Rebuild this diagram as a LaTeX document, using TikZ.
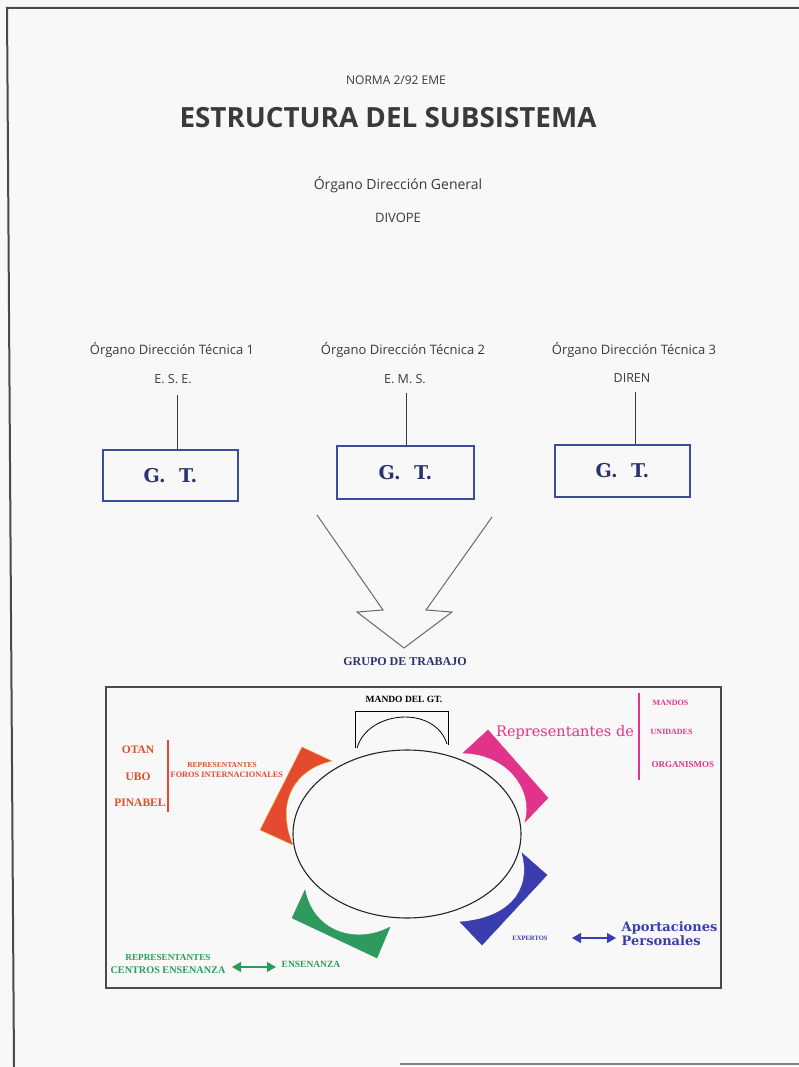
\documentclass[tikz,border=0pt]{standalone}
\usepackage{fontspec}
\setmainfont{Open Sans}
\newfontfamily\osans{Open Sans}
\newfontfamily\dvserif{DejaVu Serif}
\newfontfamily\tserif{Liberation Serif}
\usetikzlibrary{arrows.meta,shapes.geometric}

\definecolor{paper}{HTML}{F8F8F8}
\definecolor{inkgray}{HTML}{3A3A3A}
\definecolor{framegray}{HTML}{4A4A4A}
\definecolor{boxblue}{HTML}{3C4C9C}
\definecolor{navy}{HTML}{2A3270}
\definecolor{redorange}{HTML}{E44A2E}
\definecolor{halo}{HTML}{F2B33C}
\definecolor{magenta}{HTML}{E2338A}
\definecolor{royal}{HTML}{3A3DAE}
\definecolor{leaf}{HTML}{2E9A5E}
\definecolor{outline}{HTML}{6A6A6A}

\newcommand{\fs}[1]{\fontsize{#1}{#1}\selectfont}

\tikzset{
  toptext/.style={text=inkgray, inner sep=1pt, font=\osans\fs{13}},
  gtbox/.style={draw=boxblue, line width=1.3pt, minimum width=135pt, minimum height=51pt,
                text=navy, font=\dvserif\bfseries\fs{19}},
  link/.style={draw=inkgray, line width=1pt},
  tinylabel/.style={inner sep=0.5pt, font=\tserif\bfseries\fs{8}},
  dblarrow/.style={line width=1.2pt, {Triangle[length=9pt,width=10pt]}-{Triangle[length=9pt,width=10pt]}},
  band/.style={line width=0.4pt}
}

\begin{document}
\begin{tikzpicture}[x=1pt,y=-1pt]
\useasboundingbox (0,0) rectangle (799,1067);
\fill[paper] (0,0) rectangle (799,1067);

% sheet edges
\draw[framegray, line width=2pt] (799,8) -- (7,8) -- (14,1067);
\draw[framegray!70, line width=2pt] (400,1063.5) -- (799,1063.5);

% heading
\node[toptext, font=\osans\fs{12}] (norma) at (396,80) {NORMA 2/92 EME};
\node[text=inkgray, font=\osans\bfseries\fs{27.8}] (title) at (388,118) {ESTRUCTURA DEL SUBSISTEMA};
\node[toptext, font=\osans\fs{14}] (dg) at (398,185) {Órgano Dirección General};
\node[toptext] (divope) at (398,218) {DIVOPE};

% technical directorates
\node[toptext] (odt1) at (172,350) {Órgano Dirección Técnica 1};
\node[toptext] (odt2) at (403,350) {Órgano Dirección Técnica 2};
\node[toptext] (odt3) at (634,350) {Órgano Dirección Técnica 3};
\node[toptext, font=\osans\fs{12.5}] (ese) at (173,379) {E. S. E.};
\node[toptext, font=\osans\fs{12.5}] (ems) at (405,379) {E. M. S.};
\node[toptext, font=\osans\fs{12.5}] (diren) at (632,378) {DIREN};

% working groups
\node[gtbox] (gt1) at (170.5,475.5) {G.~~T.};
\node[gtbox, minimum width=137pt, minimum height=53pt] (gt2) at (405.5,472.5) {G.~~T.};
\node[gtbox, minimum height=52pt] (gt3) at (622.5,471) {G.~~T.};

\coordinate (c1) at (177,395);
\coordinate (c2) at (406,393);
\coordinate (c3) at (635,392);
\draw[link] (c1) -- (c1 |- gt1.north);
\draw[link] (c2) -- (c2 |- gt2.north);
\draw[link] (c3) -- (c3 |- gt3.north);

% converging arrow outline
\draw[outline, line width=1pt, line join=miter]
  (317,515) -- (383,610) -- (357,612) -- (404,648) -- (452,612) -- (426,610) -- (492,517);

\node[text=navy, font=\tserif\bfseries\fs{12}] (grupo) at (405,662) {GRUPO DE TRABAJO};

% working group panel
\node[draw=framegray, line width=1.5pt, minimum width=615pt, minimum height=301pt, inner sep=0pt]
  (panel) at (413.5,837.5) {};

\node[text=black, tinylabel, font=\tserif\bfseries\fs{9.5}] (mando) at (404,699) {MANDO DEL GT.};
\draw[black, line width=0.8pt] (355,748) -- (355,711) -- (448,711) -- (448,745);
\draw[black, line width=0.8pt] (357,748) .. controls (368,710) and (435,705) .. (447,744);

\node[draw=black!85, line width=1.1pt, ellipse, minimum width=228pt, minimum height=168pt, inner sep=0pt]
  (mesa) at (407,834) {};

% coloured brackets around the table
\filldraw[band, fill=redorange, draw=halo]
  (302,747) -- (332,761) .. controls (292,770) and (276,805) .. (293,845) -- (260,830) -- cycle;
\filldraw[band, fill=magenta, draw=magenta]
  (463,753) -- (488,730) -- (548,798) -- (525,822) .. controls (534,790) and (508,754) .. cycle;
\filldraw[band, fill=royal, draw=royal]
  (522,853) -- (547,875) -- (482,945) -- (460,922) .. controls (510,918) and (532,890) .. cycle;
\filldraw[band, fill=leaf, draw=leaf]
  (305,890) -- (292,918) -- (377,958) -- (390,927) .. controls (358,944) and (314,934) .. cycle;

% international forums
\node[tinylabel, text=redorange, font=\tserif\bfseries\fs{11.5}] (otan) at (138,750) {OTAN};
\node[tinylabel, text=redorange, font=\tserif\bfseries\fs{11.5}] (ubo) at (138,777) {UBO};
\node[tinylabel, text=redorange, font=\tserif\bfseries\fs{11.5}] (pinabel) at (140,803) {PINABEL};
\coordinate (rt) at (168,740);
\coordinate (rb) at (168,812);
\draw[redorange, line width=1.2pt] (rt) -- (rb);
\node[tinylabel, text=redorange, font=\tserif\bfseries\fs{7.5}] (repf) at (222,765) {REPRESENTANTES};
\node[tinylabel, text=redorange, font=\tserif\bfseries\fs{8.3}, anchor=west] (foros) at (170,775) {FOROS INTERNACIONALES};

% units
\node[text=magenta, inner sep=0.5pt, font=\dvserif\fs{14.5}] (repde) at (565,732) {Representantes de};
\coordinate (mt) at (639,693);
\coordinate (mb) at (639,780);
\draw[magenta, line width=1.2pt] (mt) -- (mb);
\node[tinylabel, text=magenta, anchor=west] (mandos) at (652,703) {MANDOS};
\node[tinylabel, text=magenta, anchor=west] (unidades) at (650,732) {UNIDADES};
\node[tinylabel, text=magenta, font=\tserif\bfseries\fs{9}, anchor=west] (organismos) at (651,765) {ORGANISMOS};

% experts
\node[tinylabel, text=royal, font=\tserif\bfseries\fs{6.6}] (expertos) at (530,938) {EXPERTOS};
\node[text=royal, inner sep=0.5pt, anchor=west, align=left, font=\dvserif\bfseries\fs{13}]
  (aport) at (621,934) {Aportaciones\\[1pt]Personales};
\coordinate (ea) at (572,938);
\coordinate (eb) at (616,938);
\draw[royal, dblarrow] (ea) -- (eb);

% teaching centres
\node[tinylabel, text=leaf, font=\tserif\bfseries\fs{9.2}] (repc) at (168,957) {REPRESENTANTES};
\node[tinylabel, text=leaf, font=\tserif\bfseries\fs{10.2}] (centros) at (168,970) {CENTROS ENSENANZA};
\node[tinylabel, text=leaf, anchor=west, font=\tserif\bfseries\fs{9.5}] (ensenanza) at (281,964) {ENSENANZA};
\coordinate (ga) at (232,967);
\coordinate (gb) at (276,967);
\draw[leaf, dblarrow] (ga) -- (gb);
\end{tikzpicture}
\end{document}
